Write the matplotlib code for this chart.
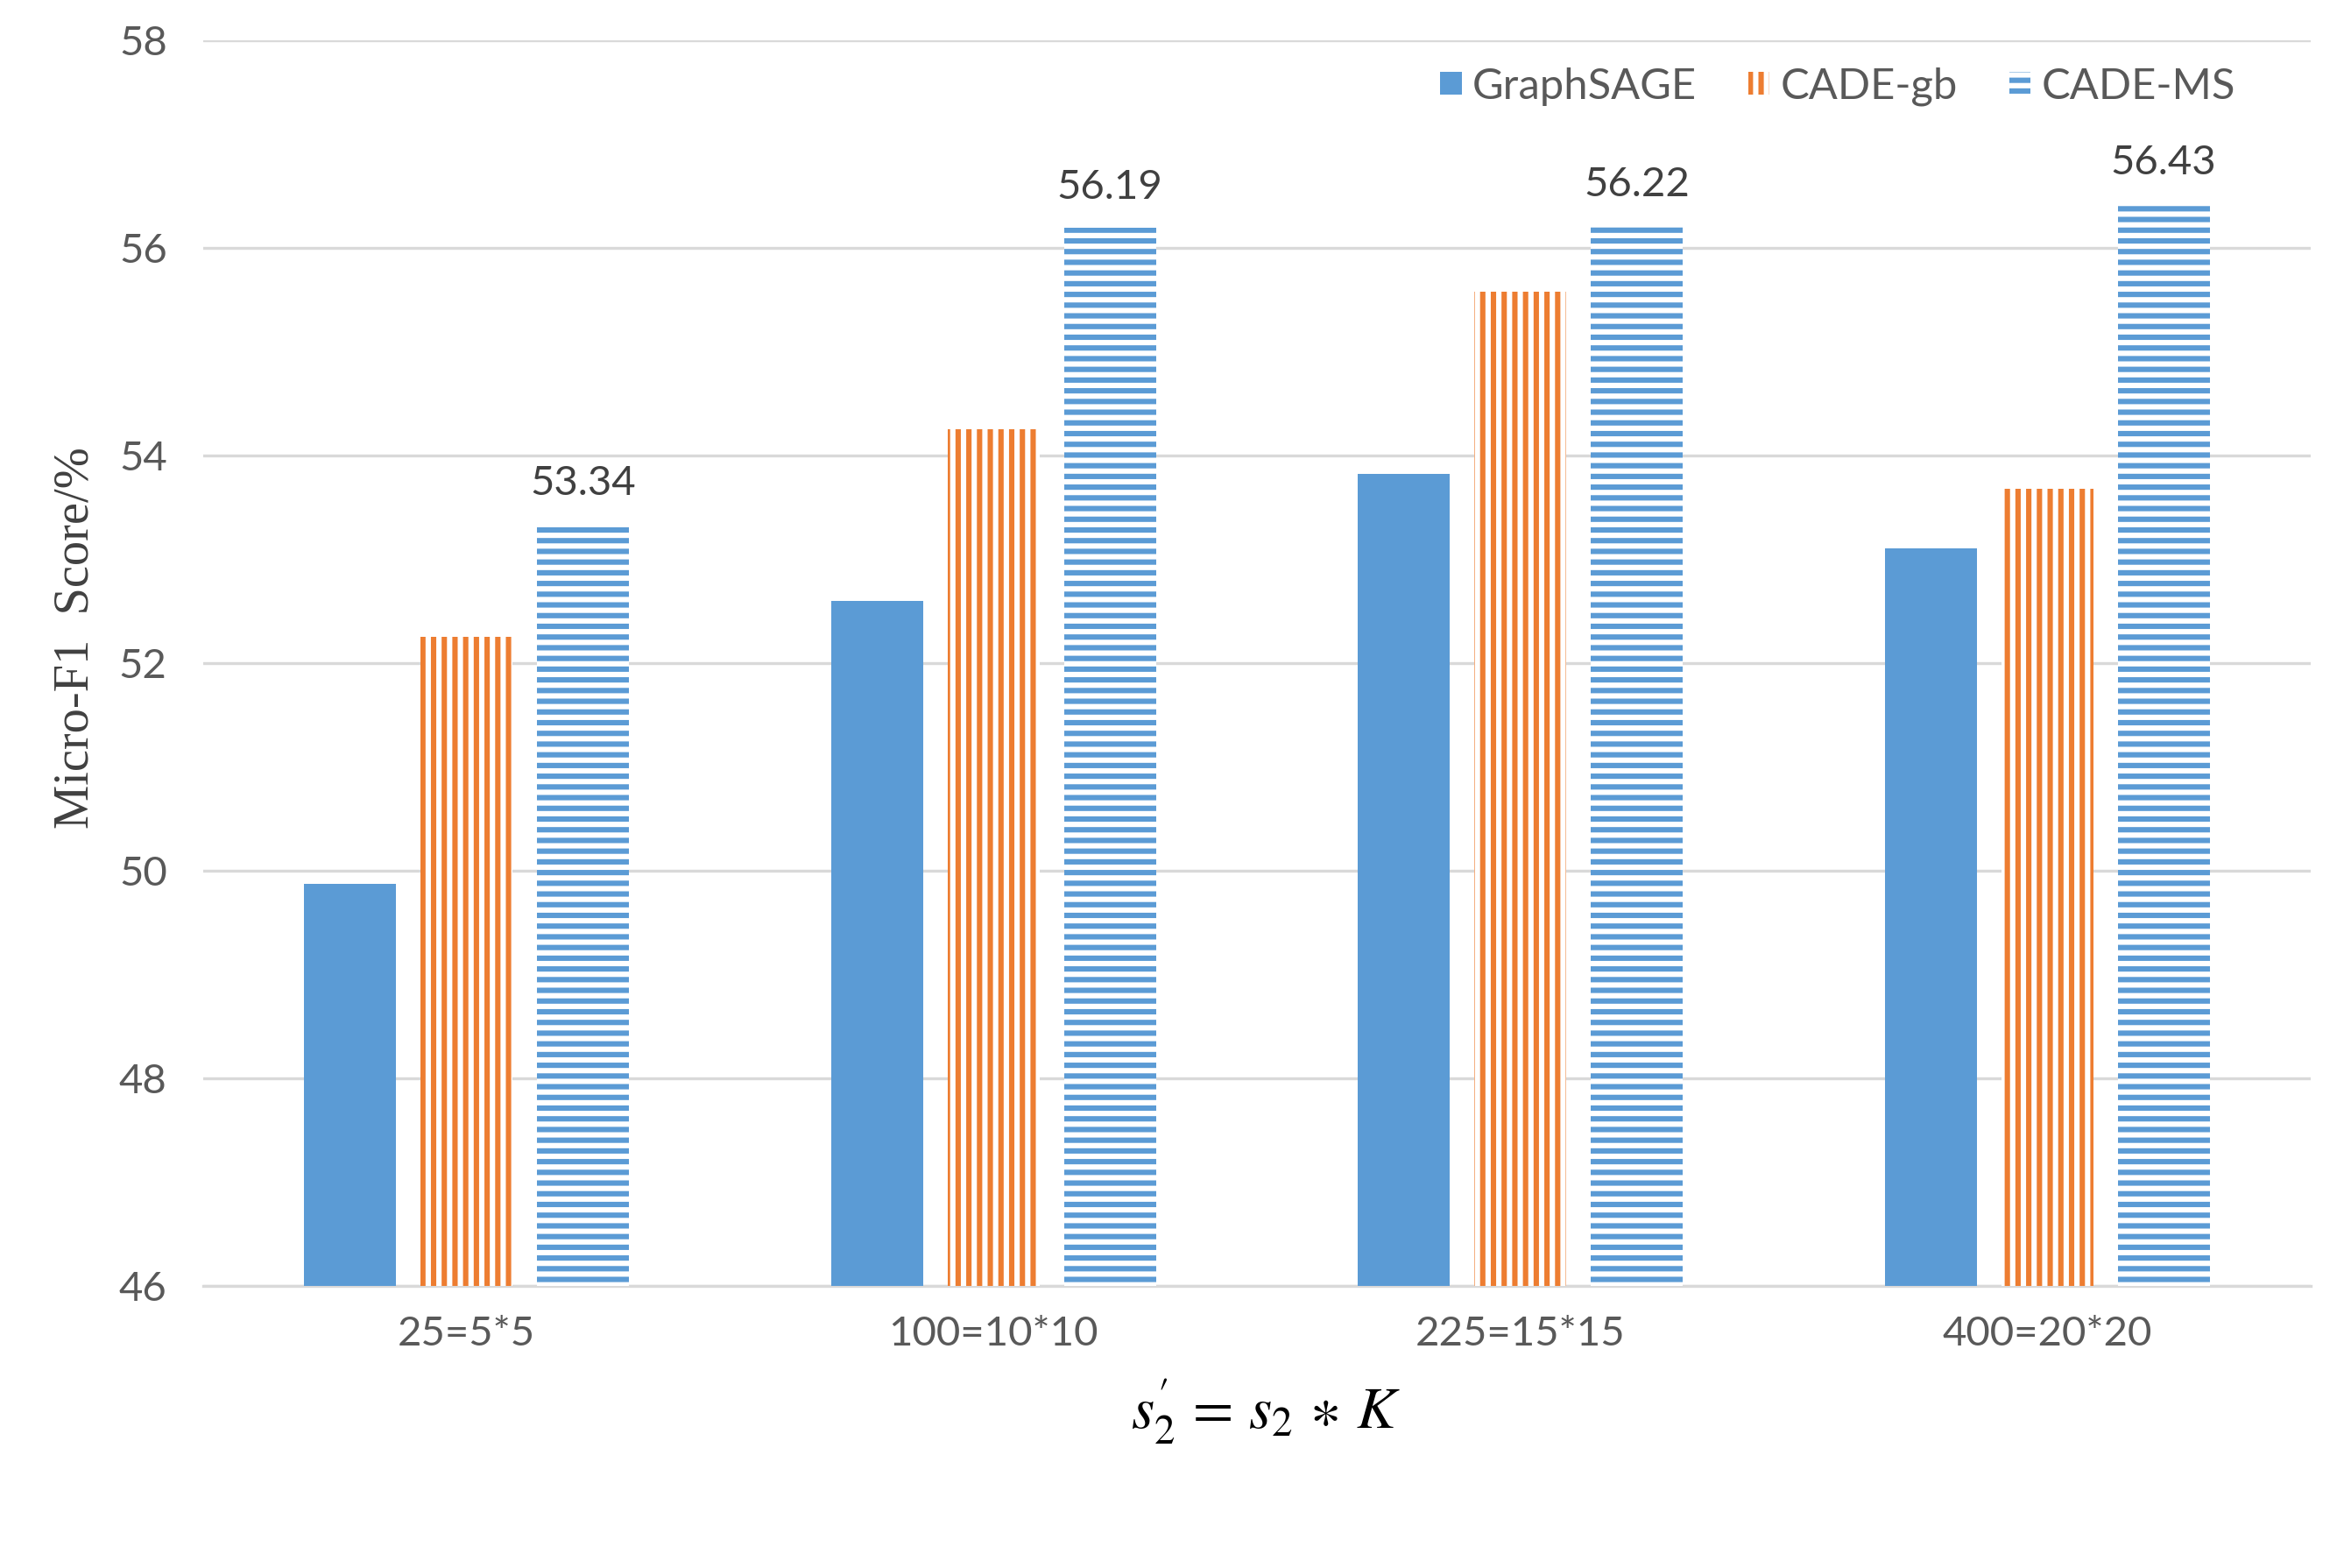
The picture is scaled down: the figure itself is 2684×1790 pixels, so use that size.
import numpy as np
import matplotlib
matplotlib.use("Agg")
import matplotlib.pyplot as plt
from matplotlib.patches import Patch

# data
categories = ["25=5*5", "100=10*10", "225=15*15", "400=20*20"]
graphsage = [49.87, 52.60, 53.82, 53.10]
cade_gb = [52.25, 54.25, 55.58, 53.68]
cade_ms = [53.34, 56.19, 56.22, 56.43]

blue = "#5B9BD5"
orange = "#ED7D31"
grid_gray = "#D9D9D9"
text_gray = "#595959"

plt.rcParams["font.family"] = ["Lato", "DejaVu Sans"]
plt.rcParams["hatch.linewidth"] = 2.0
plt.rcParams["mathtext.fontset"] = "stix"

W, H, DPI = 2684, 1790, 220
fig = plt.figure(figsize=(W / DPI, H / DPI), dpi=DPI)
ax = fig.add_axes([232 / W, 1 - 1468 / H, (2638 - 232) / W, (1468 - 45.7) / H])

x = np.arange(len(categories))
width = 0.175
offset = 0.221

ax.bar(x - offset, graphsage, width, color=blue, linewidth=0, zorder=3)
ax.bar(x, cade_gb, width, color="white", edgecolor=orange, hatch="|||",
       linewidth=0, zorder=3)
bars_ms = ax.bar(x + offset, cade_ms, width, color="white", edgecolor=blue,
                 hatch="---", linewidth=0, zorder=3)

for rect, v in zip(bars_ms, cade_ms):
    ax.annotate(f"{v:.2f}", (rect.get_x() + rect.get_width() / 2, v),
                xytext=(0, 8.2), textcoords="offset points", ha="center",
                va="bottom", fontsize=15.5, color="#404040")

ax.set_ylim(46, 58)
ax.set_xlim(-0.5, len(categories) - 0.5)
ax.set_yticks(np.arange(46, 59, 2))
ax.set_xticks(x)
ax.set_xticklabels(categories)
ax.tick_params(axis="both", length=0, labelsize=15.5, labelcolor=text_gray)
ax.tick_params(axis="y", pad=13.5)
ax.tick_params(axis="x", pad=11)

ax.grid(axis="y", color=grid_gray, linewidth=1.1, zorder=0)
for side in ["top", "right", "left"]:
    ax.spines[side].set_visible(False)
ax.spines["bottom"].set_color(grid_gray)
ax.spines["bottom"].set_linewidth(1.1)
ax.spines["bottom"].set_zorder(1)

fig.text(87 / W, 1 - 728 / H, "Micro-F1  Score/%", rotation=90, ha="center",
         va="center", fontsize=18.5, color="#404040",
         family=["Liberation Serif", "DejaVu Serif"])
fig.text(1445 / W, 1 - 1612 / H, r"$s_2^{\prime}\,=\,s_2\,\ast\,K$", ha="center",
         va="center", fontsize=22, color="black")

handles = [
    Patch(facecolor=blue, linewidth=0, label="GraphSAGE"),
    Patch(facecolor="white", edgecolor=orange, hatch="|||", linewidth=0,
          label="CADE-gb"),
    Patch(facecolor="white", edgecolor=blue, hatch="---", linewidth=0,
          label="CADE-MS"),
]
leg = fig.legend(handles=handles, loc="center", bbox_to_anchor=(2098 / W, 1 - 99 / H),
                 ncol=3, frameon=False, fontsize=16, handlelength=0.5,
                 handleheight=0.45, handletextpad=0.25, columnspacing=1.2,
                 borderpad=0)
for t in leg.get_texts():
    t.set_color(text_gray)

fig.savefig("out.png", dpi=DPI, facecolor="white")
